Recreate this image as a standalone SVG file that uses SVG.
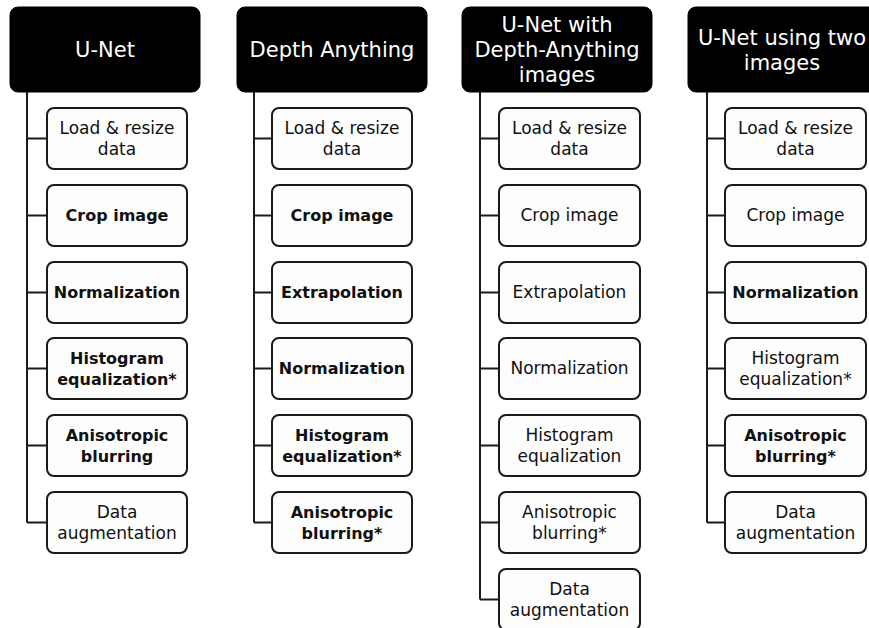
<svg xmlns="http://www.w3.org/2000/svg" width="869" height="628" viewBox="0 0 869 628">
<style>
.hdr{fill:#000;stroke:#000;stroke-width:1}
.ht{fill:#fff;font-family:"DejaVu Sans",sans-serif;font-size:21px;text-anchor:middle}
.box{fill:#fdfdfd;stroke:#1a1a1a;stroke-width:2}
.t{fill:#111;font-family:"DejaVu Sans",sans-serif;font-size:17px;text-anchor:middle}
.b{font-weight:bold;font-size:16px}
.ln{stroke:#1a1a1a;stroke-width:2;fill:none}
</style>
<rect width="869" height="628" fill="#fff"/>
<g id="connectors">
<path class="ln" d="M27 92V522.5M27 138.5H47M27 215.5H47M27 292.5H47M27 368.5H47M27 445.5H47M27 522.5H47"/>
<path class="ln" d="M254 92V522.5M254 138.5H272M254 215.5H272M254 292.5H272M254 368.5H272M254 445.5H272M254 522.5H272"/>
<path class="ln" d="M480 92V599.5M480 138.5H499M480 215.5H499M480 292.5H499M480 368.5H499M480 445.5H499M480 522.5H499M480 599.5H499"/>
<path class="ln" d="M707 92V522.5M707 138.5H725M707 215.5H725M707 292.5H725M707 368.5H725M707 445.5H725M707 522.5H725"/>
</g>
<g id="h1"><rect class="hdr" x="10" y="7" width="190" height="85" rx="8"/><text class="ht" x="105" y="57">U-Net</text></g>
<g id="h2"><rect class="hdr" x="237" y="7" width="190" height="85" rx="8"/><text class="ht" x="332" y="57">Depth Anything</text></g>
<g id="h3"><rect class="hdr" x="462" y="7" width="190" height="85" rx="8"/><text class="ht" x="557" y="32">U-Net with</text><text class="ht" x="557" y="57">Depth-Anything</text><text class="ht" x="557" y="82">images</text></g>
<g id="h4"><rect class="hdr" x="688" y="7" width="190" height="85" rx="8"/><text class="ht" x="782" y="45">U-Net using two</text><text class="ht" x="782" y="70">images</text></g>

<g id="c1n1"><rect class="box" x="47" y="108" width="140" height="61" rx="7"/><text class="t" x="117" y="134">Load &amp; resize</text><text class="t" x="117" y="155">data</text></g>
<g id="c1n2"><rect class="box" x="47" y="185" width="140" height="61" rx="7"/><text class="t b" x="117" y="221">Crop image</text></g>
<g id="c1n3"><rect class="box" x="47" y="262" width="140" height="61" rx="7"/><text class="t b" x="117" y="298">Normalization</text></g>
<g id="c1n4"><rect class="box" x="47" y="338" width="140" height="61" rx="7"/><text class="t b" x="117" y="364">Histogram</text><text class="t b" x="117" y="385">equalization*</text></g>
<g id="c1n5"><rect class="box" x="47" y="415" width="140" height="61" rx="7"/><text class="t b" x="117" y="441">Anisotropic</text><text class="t b" x="117" y="462">blurring</text></g>
<g id="c1n6"><rect class="box" x="47" y="492" width="140" height="61" rx="7"/><text class="t" x="117" y="518">Data</text><text class="t" x="117" y="539">augmentation</text></g>

<g id="c2n1"><rect class="box" x="272" y="108" width="140" height="61" rx="7"/><text class="t" x="342" y="134">Load &amp; resize</text><text class="t" x="342" y="155">data</text></g>
<g id="c2n2"><rect class="box" x="272" y="185" width="140" height="61" rx="7"/><text class="t b" x="342" y="221">Crop image</text></g>
<g id="c2n3"><rect class="box" x="272" y="262" width="140" height="61" rx="7"/><text class="t b" x="342" y="298">Extrapolation</text></g>
<g id="c2n4"><rect class="box" x="272" y="338" width="140" height="61" rx="7"/><text class="t b" x="342" y="374">Normalization</text></g>
<g id="c2n5"><rect class="box" x="272" y="415" width="140" height="61" rx="7"/><text class="t b" x="342" y="441">Histogram</text><text class="t b" x="342" y="462">equalization*</text></g>
<g id="c2n6"><rect class="box" x="272" y="492" width="140" height="61" rx="7"/><text class="t b" x="342" y="518">Anisotropic</text><text class="t b" x="342" y="539">blurring*</text></g>

<g id="c3n1"><rect class="box" x="499" y="108" width="141" height="61" rx="7"/><text class="t" x="569.5" y="134">Load &amp; resize</text><text class="t" x="569.5" y="155">data</text></g>
<g id="c3n2"><rect class="box" x="499" y="185" width="141" height="61" rx="7"/><text class="t" x="569.5" y="221">Crop image</text></g>
<g id="c3n3"><rect class="box" x="499" y="262" width="141" height="61" rx="7"/><text class="t" x="569.5" y="298">Extrapolation</text></g>
<g id="c3n4"><rect class="box" x="499" y="338" width="141" height="61" rx="7"/><text class="t" x="569.5" y="374">Normalization</text></g>
<g id="c3n5"><rect class="box" x="499" y="415" width="141" height="61" rx="7"/><text class="t" x="569.5" y="441">Histogram</text><text class="t" x="569.5" y="462">equalization</text></g>
<g id="c3n6"><rect class="box" x="499" y="492" width="141" height="61" rx="7"/><text class="t" x="569.5" y="518">Anisotropic</text><text class="t" x="569.5" y="539">blurring*</text></g>
<g id="c3n7"><rect class="box" x="499" y="569" width="141" height="61" rx="7"/><text class="t" x="569.5" y="595">Data</text><text class="t" x="569.5" y="616">augmentation</text></g>

<g id="c4n1"><rect class="box" x="725" y="108" width="141" height="61" rx="7"/><text class="t" x="795.5" y="134">Load &amp; resize</text><text class="t" x="795.5" y="155">data</text></g>
<g id="c4n2"><rect class="box" x="725" y="185" width="141" height="61" rx="7"/><text class="t" x="795.5" y="221">Crop image</text></g>
<g id="c4n3"><rect class="box" x="725" y="262" width="141" height="61" rx="7"/><text class="t b" x="795.5" y="298">Normalization</text></g>
<g id="c4n4"><rect class="box" x="725" y="338" width="141" height="61" rx="7"/><text class="t" x="795.5" y="364">Histogram</text><text class="t" x="795.5" y="385">equalization*</text></g>
<g id="c4n5"><rect class="box" x="725" y="415" width="141" height="61" rx="7"/><text class="t b" x="795.5" y="441">Anisotropic</text><text class="t b" x="795.5" y="462">blurring*</text></g>
<g id="c4n6"><rect class="box" x="725" y="492" width="141" height="61" rx="7"/><text class="t" x="795.5" y="518">Data</text><text class="t" x="795.5" y="539">augmentation</text></g>
</svg>
